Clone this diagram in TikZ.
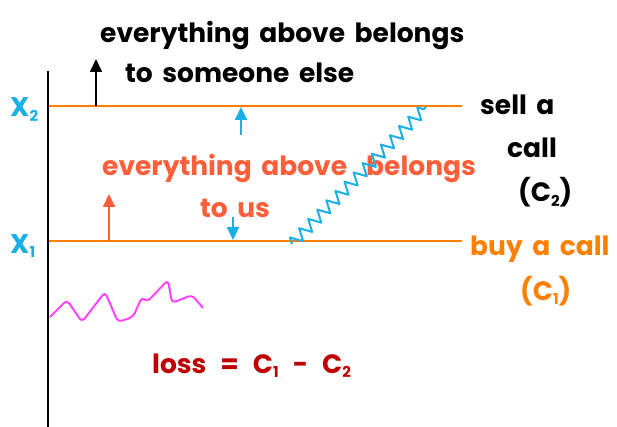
\documentclass[tikz,border=0pt]{standalone}
\usepackage{fontspec}
\setmainfont{Poppins}[WordSpace=1.7]
\usetikzlibrary{decorations.pathmorphing,arrows.meta}
\definecolor{lineor}{HTML}{FF8000}
\definecolor{skyb}{HTML}{1AAFE6}
\definecolor{tomatored}{HTML}{FF5E3A}
\definecolor{darkred}{HTML}{C00000}
\definecolor{magen}{HTML}{FF44FF}
\newcommand{\subsc}[1]{\raisebox{-0.3ex}{\fontsize{15}{15}\selectfont #1}}
\newcommand{\gap}{\hspace{14pt}}
\begin{document}
\begin{tikzpicture}[x=1pt,y=-1pt,
  lbl/.style={anchor=base west,inner sep=0pt,font=\bfseries\fontsize{26.5}{30}\selectfont},
  strike/.style={lineor,line width=2.8pt},
  axisline/.style={black,line width=2.4pt},
  upar/.style={line width=2pt,-{Triangle[length=13pt,width=12pt]}}]
\useasboundingbox (0,0) rectangle (617,427);
% axis
\coordinate (axtop) at (48,71);
\coordinate (axbot) at (48,427);
\draw[axisline] (axtop) -- (axbot);
% strike lines
\coordinate (x2l) at (49,106); \coordinate (x2r) at (462,106);
\coordinate (x1l) at (49,241); \coordinate (x1r) at (462,241);
\draw[strike] (x2l) -- (x2r);
\draw[strike] (x1l) -- (x1r);
% X labels
\node[lbl,skyb,font=\bfseries\fontsize{27}{30}\selectfont] (lx2) at (10,117) {X\subsc{2}};
\node[lbl,skyb,font=\bfseries\fontsize{27}{30}\selectfont] (lx1) at (10,253) {X\subsc{1}};
% black arrow + text
\coordinate (ba0) at (96,106); \coordinate (ba1) at (96,59);
\draw[upar,black] (ba0) -- (ba1);
\node[lbl] (t1) at (100,43) {everything above belongs};
\node[lbl] (t2) at (125,83) {to someone else};
% blue arrows
\coordinate (bu0) at (241,135); \coordinate (bu1) at (241,107);
\draw[upar,skyb] (bu0) -- (bu1);
\coordinate (bd0) at (233,217); \coordinate (bd1) at (233,240);
\draw[upar,skyb] (bd0) -- (bd1);
% red arrow + text
\coordinate (ra0) at (109,241); \coordinate (ra1) at (109,194);
\draw[upar,tomatored] (ra0) -- (ra1);
\node[lbl,tomatored] (r1) at (102,176) {everything above\ \ belongs};
\node[lbl,tomatored] (r2) at (200,218) {to us};
% zigzag
\coordinate (z0) at (292,244); \coordinate (z1) at (426,107);
\draw[skyb,line width=2pt,line join=round,decorate,decoration={zigzag,segment length=13pt,amplitude=6pt}] (z0) -- (z1);
% right labels
\node[lbl] (s1) at (480,115) {sell a};
\node[lbl] (s2) at (507,158) {call};
\node[lbl] (s3) at (518,202) {(C\subsc{2})};
\node[lbl,lineor] (b1) at (470,255) {buy a call};
\node[lbl,lineor] (b2) at (520,300) {(C\subsc{1})};
% magenta squiggle
\draw[magen,line width=2pt,line join=round,rounded corners=4pt]
  (50,317) -- (67,300) -- (82,322) -- (105,292) -- (118,322) -- (133,317) -- (142,297) -- (147,302) -- (168,280) -- (172,303) -- (192,295) -- (203,308);
% loss
\node[lbl,darkred] (loss) at (152,373) {loss\gap=\gap C\subsc{1}\gap-\gap C\subsc{2}};
\end{tikzpicture}
\end{document}
